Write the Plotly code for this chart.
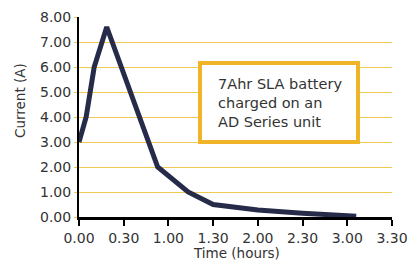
import plotly.graph_objects as go

time_hours = [0.0, 0.08, 0.17, 0.31, 0.88, 1.22, 1.50, 2.00, 2.50, 3.00, 3.10]
current_a = [3.0, 4.0, 6.0, 7.6, 2.0, 1.0, 0.5, 0.28, 0.15, 0.06, 0.03]

x_tick_vals = [0, 0.5, 1.0, 1.5, 2.0, 2.5, 3.0, 3.5]
x_tick_text = ["0.00", "0.30", "1.00", "1.30", "2.00", "2.30", "3.00", "3.30"]
y_tick_vals = [0, 1, 2, 3, 4, 5, 6, 7, 8]
y_tick_text = ["0.00", "1.00", "2.00", "3.00", "4.00", "5.00", "6.00", "7.00", "8.00"]

font_family = "'DejaVu Sans', sans-serif"
text_color = "#333333"

# page has an 8px body margin; figure is offset by it
OFF = 8
W, H = 417 - OFF, 261 - OFF
L, T = 79 - OFF, 17 - OFF
R, B = 25, 44
PW, PH = W - L - R, H - T - B


def px_x(px):
    return (px - OFF - L) / PW


def px_y(py):
    return ((T + PH) - (py - OFF)) / PH


fig = go.Figure()
fig.add_trace(go.Scatter(
    x=time_hours, y=current_a, mode="lines",
    line=dict(color="#262b4a", width=5),
    hoverinfo="skip", showlegend=False,
))

fig.update_layout(
    width=W, height=H,
    margin=dict(l=L, r=R, t=T, b=B, autoexpand=False),
    paper_bgcolor="white", plot_bgcolor="white",
    font=dict(family=font_family, size=14, color=text_color),
    xaxis=dict(
        range=[0, 3.5], tickvals=x_tick_vals, ticktext=x_tick_text,
        showgrid=False, zeroline=False, automargin=False,
        showline=True, linecolor="black", linewidth=2.5,
        ticks="outside", ticklen=6, tickwidth=2, tickcolor="black",
        tickfont=dict(size=14, color=text_color),
    ),
    yaxis=dict(
        range=[0, 8], tickvals=y_tick_vals, ticktext=y_tick_text,
        showgrid=True, gridcolor="#efca52", gridwidth=1.2,
        zeroline=False, automargin=False,
        showline=True, linecolor="black", linewidth=2,
        ticks="outside", ticklen=3, tickwidth=1.2, tickcolor="#efca52",
        tickfont=dict(size=14, color=text_color),
    ),
)

# axis titles
fig.add_annotation(xref="paper", yref="paper",
                   x=px_x(236), y=px_y(253),
                   xanchor="center", yanchor="middle", showarrow=False,
                   text="Time (hours)", font=dict(size=13.5, color=text_color))
fig.add_annotation(xref="paper", yref="paper",
                   x=px_x(20), y=px_y(101),
                   xanchor="center", yanchor="middle", showarrow=False, textangle=-90,
                   text="Current (A)", font=dict(size=13.5, color=text_color))

fig.add_shape(type="rect", xref="paper", yref="paper",
              x0=px_x(200), x1=px_x(358),
              y0=px_y(142), y1=px_y(63),
              line=dict(color="#f0b429", width=4), fillcolor="white", layer="above")

fig.add_annotation(
    xref="paper", yref="paper",
    x=px_x(216), y=px_y(103),
    xanchor="left", yanchor="middle", align="left", showarrow=False,
    text="7Ahr SLA battery<br>charged on an<br>AD Series unit",
    font=dict(family=font_family, size=14.5, color="#333333"),
)

fig.write_html("out.html")
